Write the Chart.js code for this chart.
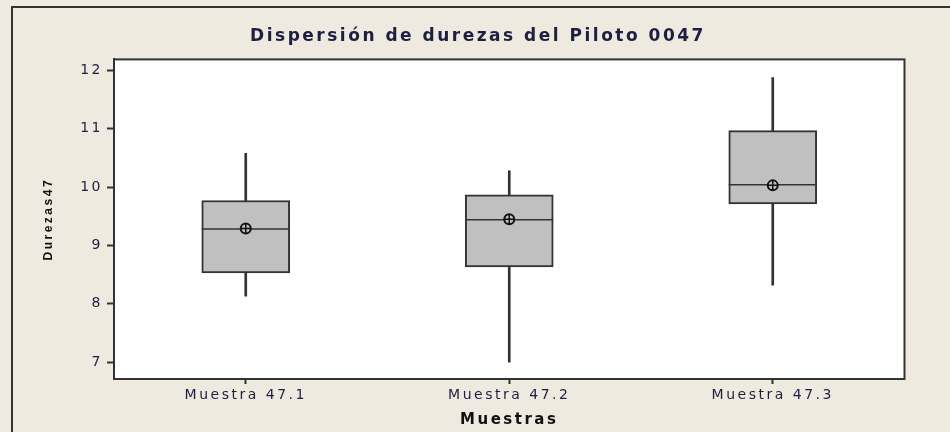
<!DOCTYPE html>
<html>
<head>
<meta charset="utf-8">
<script src="https://cdn.jsdelivr.net/npm/chart.js@4"></script>
<style>
  html, body { margin: 0; padding: 0; background: #eeeae0; }
  #wrap { position: relative; width: 950px; height: 432px; overflow: hidden; }
  #frame { position: absolute; left: 11px; top: 6px; width: 1000px; height: 500px;
           border-left: 2px solid #333; border-top: 2px solid #333; }
  canvas { position: absolute; left: 0; top: 0; }
</style>
</head>
<body>
<div id="wrap">
  <div id="frame"></div>
  <canvas id="box" width="950" height="432"></canvas>
</div>
<script>
const categories = ["Muestra 47.1", "Muestra 47.2", "Muestra 47.3"];
const whiskerLow = [8.13, 7.0, 8.32];
const q1 = [8.53, 8.63, 9.71];
const medians = [9.28, 9.44, 10.04];
const q3 = [9.77, 9.87, 10.97];
const whiskerHigh = [10.58, 10.28, 11.88];
const means = [9.29, 9.45, 10.03];
const yTicks = [7, 8, 9, 10, 11, 12];

const ink = "#333333";
const textCol = "#1e1e40";

// wide letter spacing like the original (Minitab style)
const spacing = {
  id: "spacing",
  beforeUpdate(chart) { chart.ctx.letterSpacing = "2.5px"; },
  beforeDraw(chart) {
    const { ctx, chartArea: a } = chart;
    ctx.letterSpacing = "2.5px";
    ctx.save();
    ctx.fillStyle = "#ffffff";
    ctx.fillRect(a.left, a.top, a.right - a.left, a.bottom - a.top);
    ctx.restore();
  },
  afterDatasetsDraw(chart) {
    const { ctx, chartArea: a } = chart;
    ctx.save();
    ctx.strokeStyle = ink;
    ctx.lineWidth = 2;
    ctx.strokeRect(a.left, a.top, a.right - a.left, a.bottom - a.top);
    ctx.restore();
  }
};

new Chart(document.getElementById("box"), {
  type: "bar",
  data: {
    labels: categories,
    datasets: [
      {
        label: "whisker",
        data: whiskerLow.map((v, i) => [v, whiskerHigh[i]]),
        backgroundColor: ink,
        barThickness: 2,
        grouped: false,
        order: 4
      },
      {
        label: "box",
        data: q1.map((v, i) => [v, q3[i]]),
        backgroundColor: "#c0c0c0",
        borderColor: ink,
        borderWidth: 2,
        borderSkipped: false,
        barThickness: 88,
        grouped: false,
        order: 3
      },
      {
        type: "line",
        label: "median",
        data: medians,
        showLine: false,
        pointStyle: "line",
        pointRadius: 44,
        borderColor: ink,
        borderWidth: 1.5,
        order: 2
      },
      {
        type: "line",
        label: "mean",
        data: means,
        showLine: false,
        pointStyle: "circle",
        pointRadius: 5,
        pointBackgroundColor: "#c0c0c0",
        pointBorderColor: "#111",
        pointBorderWidth: 2,
        order: 1
      },
      {
        type: "line",
        label: "mean cross",
        data: means,
        showLine: false,
        pointStyle: "cross",
        pointRadius: 5,
        pointBorderColor: "#111",
        pointBorderWidth: 1.5,
        order: 0
      }
    ]
  },
  options: {
    responsive: false,
    animation: false,
    layout: { padding: { left: 48, right: 42, top: 0, bottom: 0 } },
    plugins: {
      legend: { display: false },
      tooltip: { enabled: false },
      title: {
        display: true,
        text: "Dispersión de durezas del Piloto 0047",
        color: textCol,
        font: { family: "DejaVu Sans", size: 17, weight: "bold" },
        padding: { top: 26, bottom: 13 }
      }
    },
    scales: {
      x: {
        offset: true,
        grid: { offset: false, drawOnChartArea: false, drawTicks: true, tickLength: 5, tickColor: ink, tickWidth: 2 },
        border: { display: true, color: ink, width: 2 },
        ticks: { color: textCol, padding: 3, font: { family: "DejaVu Sans", size: 14 } },
        title: {
          display: true,
          text: "Muestras",
          color: "#111",
          font: { family: "DejaVu Sans", size: 15, weight: "bold" },
          padding: { top: 0, bottom: 3 }
        },
        afterFit(scale) { scale.height = 53; }
      },
      y: {
        min: 6.71,
        max: 12.19,
        afterBuildTicks(axis) { axis.ticks = yTicks.map(v => ({ value: v })); },
        grid: { drawOnChartArea: false, drawTicks: true, tickLength: 7, tickColor: ink, tickWidth: 2 },
        border: { display: true, color: ink, width: 2 },
        ticks: { color: textCol, padding: 4, font: { family: "DejaVu Sans", size: 14 } },
        title: {
          display: true,
          text: "Durezas47",
          color: "#111",
          font: { family: "Liberation Sans Narrow, Liberation Sans", size: 12, weight: "bold" },
          padding: { top: -7, bottom: 0 }
        },
        afterFit(scale) { scale.width = 66; }
      }
    }
  },
  plugins: [spacing]
});
</script>
</body>
</html>
